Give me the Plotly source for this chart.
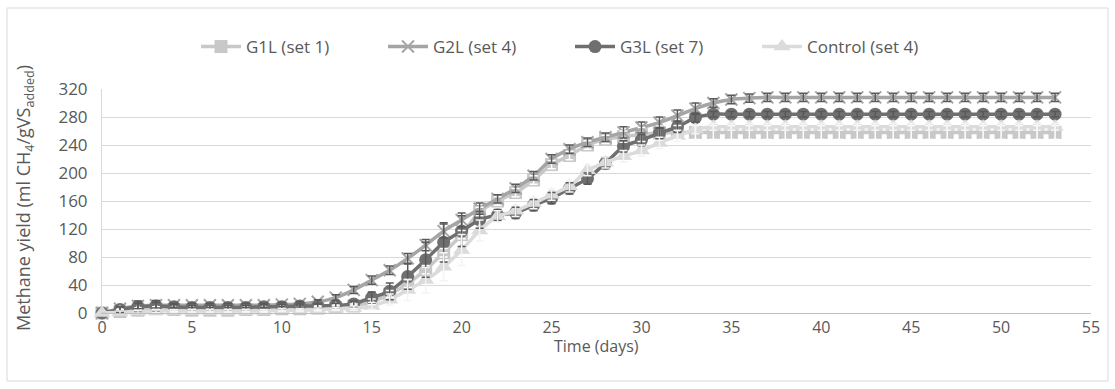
import plotly.graph_objects as go

# ---------------- data ----------------
days = list(range(54))

g1l = [0, 2, 4, 6, 5, 4, 4, 4, 5, 5, 6, 6, 7, 8, 10, 16, 27, 42, 62, 86,
       112, 145, 160, 172, 190, 212, 225, 240, 248, 252, 255, 257, 258, 258] + [258] * 20
g2l = [0, 6, 10, 11, 11, 11, 11, 11, 11, 11, 12, 13, 16, 22, 33, 47, 61, 78, 97, 117,
       133, 149, 163, 178, 196, 220, 234, 244, 251, 258, 265, 272, 282, 292, 300, 305, 307, 308] + [308] * 16
g3l = [0, 5, 9, 10, 9, 8, 8, 8, 8, 9, 9, 10, 10, 11, 13, 22, 31, 52, 76, 101,
       117, 133, 140, 143, 154, 164, 178, 192, 214, 238, 247, 257, 266, 279, 284] + [284] * 19
control = [0, 1, 2, 3, 3, 3, 3, 3, 3, 3, 4, 4, 5, 6, 7, 10, 19, 33, 47, 66,
           90, 118, 138, 146, 157, 169, 181, 204, 215, 224, 232, 243, 253, 262, 266] + [266] * 19

g1l_err = [0, 3, 3, 3, 3, 3, 3, 3, 3, 3, 3, 3, 3, 3, 3, 4, 5, 6, 6, 6,
           6, 6, 6, 6, 6, 6, 6, 6, 6, 8, 10, 10, 10, 10] + [10] * 20
g2l_err = [0, 3, 4, 4, 3, 3, 3, 3, 3, 3, 3, 3, 3, 4, 5, 6, 6, 7, 8, 10,
           10, 8, 6, 6, 6, 6, 6, 6, 6, 8, 8, 8, 8, 8, 6, 6, 6, 6] + [6] * 16
g3l_err = [0, 4, 8, 8, 3, 3, 3, 3, 3, 3, 3, 3, 3, 3, 4, 8, 12, 18, 25, 28,
           22, 12, 8, 8, 8, 8, 8, 8, 8, 8, 8, 8, 8, 6, 4] + [4] * 19
control_err = [0, 2, 2, 2, 2, 2, 2, 2, 2, 2, 2, 2, 2, 2, 3, 5, 8, 15, 18, 20,
               22, 15, 8, 8, 8, 8, 8, 8, 8, 8, 8, 8, 8, 6, 5] + [5] * 19

names = ["G1L (set 1)", "G2L (set 4)", "G3L (set 7)", "Control (set 4)"]
y_ticks = [0, 40, 80, 120, 160, 200, 240, 280, 320]
x_ticks = [0, 5, 10, 15, 20, 25, 30, 35, 40, 45, 50, 55]

# ---------------- layout helpers ----------------
W, H = 1115, 389
L, R, T, B = 102, 24, 89, 76
PW, PH = W - L - R, H - T - B


def px2x(px):
    return (px - L) / PW


def py2y(py):
    return (H - B - py) / PH


FONT = "Open Sans"
FS = 16
TXT = "#595959"

series = [
    (names[0], g1l, g1l_err, "#c8c8c8", "square", 13, "#ffffff"),
    (names[1], g2l, g2l_err, "#a5a5a5", "x-thin", 12, "#595959"),
    (names[2], g3l, g3l_err, "#6f6f6f", "circle", 13, "#595959"),
    (names[3], control, control_err, "#dbdbdb", "triangle-up", 15, "#f4f4f4"),
]

fig = go.Figure()
for rank, (nm, ys, err, col, sym, sz, ecol) in enumerate(series):
    marker = dict(symbol=sym, size=sz, color=col)
    if sym == "x-thin":
        marker["line"] = dict(color=col, width=2)
    fig.add_trace(go.Scatter(
        x=days, y=ys, name=nm, mode="lines+markers",
        line=dict(color=col, width=3.5, shape="spline", smoothing=0.6),
        marker=marker, cliponaxis=False, legendrank=rank + 1,
    ))

# error bars drawn on top of all series (as Excel does)
for nm, ys, err, col, sym, sz, ecol in series:
    fig.add_trace(go.Scatter(
        x=days, y=ys, mode="markers", showlegend=False, hoverinfo="skip",
        marker=dict(size=1, opacity=0),
        error_y=dict(type="data", array=err, visible=True, color=ecol,
                     thickness=1.5, width=4),
        cliponaxis=False,
    ))

fig.update_layout(
    width=W, height=H,
    margin=dict(l=L, r=R, t=T, b=B),
    paper_bgcolor="white", plot_bgcolor="white",
    font=dict(family=FONT, size=FS, color=TXT),
    legend=dict(orientation="h", x=px2x(196), y=py2y(47), xanchor="left", yanchor="middle",
                entrywidth=132, entrywidthmode="pixels", itemwidth=40,
                font=dict(family=FONT, size=17, color=TXT), bgcolor="rgba(0,0,0,0)"),
    showlegend=True,
)

fig.update_xaxes(
    range=[0, 55], tickvals=x_ticks, showgrid=False, zeroline=False,
    showline=True, linecolor="#bfbfbf", linewidth=1, ticks="",
    ticklabelstandoff=0,
    tickfont=dict(family=FONT, size=FS, color=TXT),
)
fig.update_yaxes(
    range=[0, 320], tickvals=y_ticks, showgrid=True, gridcolor="#d9d9d9", gridwidth=1,
    zeroline=False, showline=True, linecolor="#d9d9d9", linewidth=1, ticks="",
    ticklabelstandoff=10,
    tickfont=dict(family=FONT, size=17, color=TXT),
)

fig.add_annotation(
    text="Time (days)", xref="paper", yref="paper", x=px2x(596), y=py2y(346),
    xanchor="center", yanchor="middle", showarrow=False,
    font=dict(family=FONT, size=FS, color=TXT),
)
fig.add_annotation(
    text="Methane yield (ml CH<sub>4</sub>/gVS<sub>added</sub>)", xref="paper", yref="paper",
    x=px2x(24), y=py2y(198), xanchor="center", yanchor="middle", textangle=-90,
    showarrow=False, font=dict(family=FONT, size=18, color=TXT),
)

fig.add_shape(
    type="rect", xref="paper", yref="paper",
    x0=px2x(7), x1=px2x(1108), y0=py2y(381), y1=py2y(8),
    line=dict(color="#d9d9d9", width=1), fillcolor="rgba(0,0,0,0)", layer="below",
)

fig.write_html("out.html")
